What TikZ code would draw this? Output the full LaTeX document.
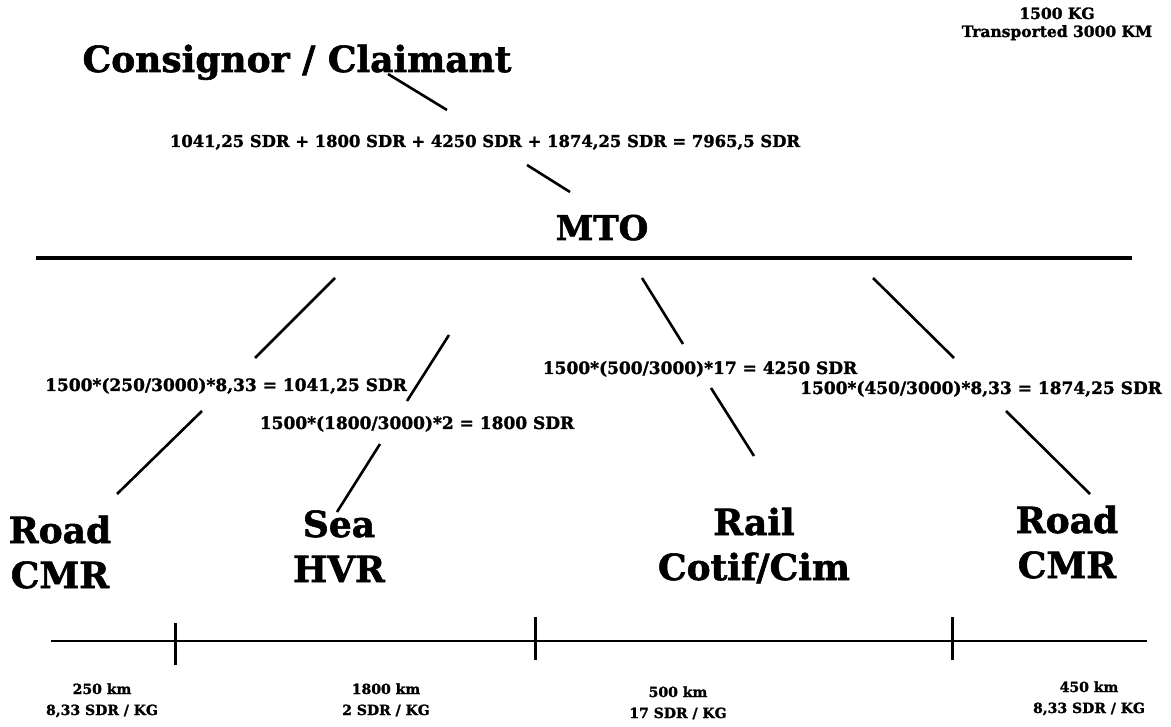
\documentclass[tikz,border=0pt]{standalone}
\usepackage{fontspec}
\setmainfont{DejaVu Serif}[BoldFeatures={FakeBold=1.6}]
\begin{document}
\begin{tikzpicture}[x=1pt,y=-1pt,
  every node/.style={inner sep=0pt,outer sep=0pt,font=\bfseries,align=center},
  big/.style={font=\bfseries\fontsize{36}{45}\selectfont},
  mtostyle/.style={font=\bfseries\fontsize{34}{40}\selectfont},
  title/.style={font=\bfseries\fontsize{36}{40}\selectfont},
  formula/.style={font=\bfseries\fontsize{17}{20}\selectfont},
  sumstyle/.style={font=\bfseries\fontsize{16.4}{20}\selectfont},
  small/.style={font=\bfseries\fontsize{14}{21}\selectfont},
  infostyle/.style={font=\bfseries\fontsize{15.5}{18}\selectfont},
  conn/.style={line width=2.6pt,black},
  axis/.style={line width=2.6pt,black},
  tick/.style={line width=3pt,black}]
\useasboundingbox (0,0) rectangle (1171,727);
\fill[white] (0,0) rectangle (1171,727);

% texts
\node[title,anchor=base] (cons) at (297,72) {Consignor / Claimant};
\node[sumstyle,anchor=base] (sum) at (485,147) {1041,25 SDR + 1800 SDR + 4250 SDR + 1874,25 SDR = 7965,5 SDR};
\node[mtostyle,anchor=base] (mto) at (602,240) {MTO};
\node[infostyle,anchor=base] (info) at (1057,37) {1500 KG\\Transported 3000 KM};

\node[formula,anchor=base] (f1) at (226,391) {1500*(250/3000)*8,33 = 1041,25 SDR};
\node[formula,anchor=base] (f2) at (417,429) {1500*(1800/3000)*2 = 1800 SDR};
\node[formula,anchor=base] (f3) at (700,374) {1500*(500/3000)*17 = 4250 SDR};
\node[formula,anchor=base] (f4) at (981,394) {1500*(450/3000)*8,33 = 1874,25 SDR};

\node[big,anchor=base] (road1) at (60,588) {Road\\CMR};
\node[big,anchor=base] (sea) at (339,582) {Sea\\HVR};
\node[big,anchor=base] (rail) at (754,580) {Rail\\Cotif/Cim};
\node[big,anchor=base] (road2) at (1067,578) {Road\\CMR};

\node[small,anchor=base] (d1) at (102,715) {250 km\\8,33 SDR / KG};
\node[small,anchor=base] (d2) at (386,715) {1800 km\\2 SDR / KG};
\node[small,anchor=base] (d3) at (678,718) {500 km\\17 SDR / KG};
\node[small,anchor=base] (d4) at (1089,713) {450 km\\8,33 SDR / KG};

% connector end points
\coordinate (c1a) at (388,74);  \coordinate (c1b) at (447,110);
\coordinate (c2a) at (527,165); \coordinate (c2b) at (570,192);
\coordinate (h1) at (36,258);   \coordinate (h2) at (1132,258);

\coordinate (a1) at (335,278); \coordinate (a2) at (255,358);
\coordinate (a3) at (202,411); \coordinate (a4) at (117,494);
\coordinate (b1) at (449,335); \coordinate (b2) at (407,401);
\coordinate (b3) at (380,444); \coordinate (b4) at (337,512);
\coordinate (r1) at (642,278); \coordinate (r2) at (683,344);
\coordinate (r3) at (711,388); \coordinate (r4) at (754,456);
\coordinate (s1) at (873,278); \coordinate (s2) at (954,358);
\coordinate (s3) at (1006,411); \coordinate (s4) at (1090,494);

\coordinate (l1) at (51,641);  \coordinate (l2) at (1147,641);
\coordinate (t1a) at (175,623); \coordinate (t1b) at (175,665);
\coordinate (t2a) at (535,617); \coordinate (t2b) at (535,660);
\coordinate (t3a) at (952,617); \coordinate (t3b) at (952,660);

% connectors
\draw[conn] (c1a) -- (c1b);
\draw[conn] (c2a) -- (c2b);
\draw[line width=3.4pt] (h1) -- (h2);
\draw[conn] (a1) -- (a2);
\draw[conn] (a3) -- (a4);
\draw[conn] (b1) -- (b2);
\draw[conn] (b3) -- (b4);
\draw[conn] (r1) -- (r2);
\draw[conn] (r3) -- (r4);
\draw[conn] (s1) -- (s2);
\draw[conn] (s3) -- (s4);

\draw[axis] (l1) -- (l2);
\draw[tick] (t1a) -- (t1b);
\draw[tick] (t2a) -- (t2b);
\draw[tick] (t3a) -- (t3b);
\end{tikzpicture}
\end{document}
